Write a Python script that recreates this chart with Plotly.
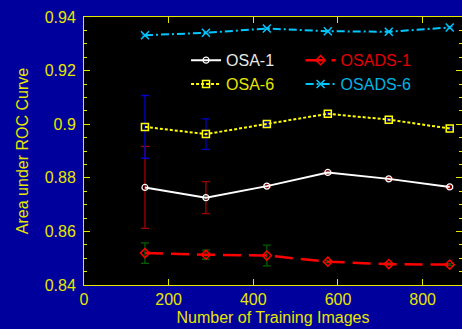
import plotly.graph_objects as go

x_images = [144, 288, 432, 576, 720, 864]

osa1 = [0.8764, 0.8726, 0.8769, 0.8820, 0.8796, 0.8766]
osa1_err = [0.0153, 0.0060, 0.0005, 0.0005, 0.0005, 0.0005]

osads1 = [0.8519, 0.8513, 0.8510, 0.8487, 0.8478, 0.8476]
osads1_err = [0.0038, 0.0017, 0.0039, 0.0004, 0.0004, 0.0004]

osa6 = [0.8990, 0.8963, 0.9001, 0.9039, 0.9017, 0.8984]
osa6_err = [0.0117, 0.0057, 0.0008, 0.0004, 0.0004, 0.0004]

osads6 = [0.9332, 0.9341, 0.9357, 0.9347, 0.9345, 0.9361]
osads6_err = [0.0003, 0.0003, 0.0003, 0.0003, 0.0003, 0.0003]

names = ["OSA-1", "OSADS-1", "OSA-6", "OSADS-6"]

BG = "#00009c"
YEL = "#e6e600"
FONT = "Liberation Sans, Arial, sans-serif"

fig = go.Figure()

fig.add_trace(go.Scatter(
    x=x_images, y=osa1, mode="lines+markers", legend="legend",
    name='<span style="color:#e8e8e8">' + names[0] + '</span>',
    line=dict(color="white", width=2),
    marker=dict(symbol="circle-open", size=6, color="white", line=dict(width=1.2)),
    error_y=dict(type="data", array=osa1_err, color="#a00000", thickness=1.3, width=4),
))
fig.add_trace(go.Scatter(
    x=x_images, y=osads1, mode="lines+markers", legend="legend2",
    name='<span style="color:#e00000">' + names[1] + '</span>',
    line=dict(color="#ff0000", width=2.5, dash="18px,8px"),
    marker=dict(symbol="diamond-open", size=7, color="#ff0000", line=dict(width=1.5)),
    error_y=dict(type="data", array=osads1_err, color="#006000", thickness=1.3, width=4),
))
fig.add_trace(go.Scatter(
    x=x_images, y=osa6, mode="lines+markers", legend="legend",
    name='<span style="color:#e6e600">' + names[2] + '</span>',
    line=dict(color="#ffff00", width=2, dash="3px,2px"),
    marker=dict(symbol="square-open", size=7, color="#ffff00", line=dict(width=1.5)),
    error_y=dict(type="data", array=osa6_err, color="#0000c8", thickness=1.3, width=4),
))
fig.add_trace(go.Scatter(
    x=x_images, y=osads6, mode="lines+markers", legend="legend2",
    name='<span style="color:#00b4e6">' + names[3] + '</span>',
    line=dict(color="#00c8ff", width=2, dash="8px,3px,2px,3px"),
    marker=dict(symbol="x-thin-open", size=8, color="#00c8ff", line=dict(width=1.5, color="#00c8ff")),
    error_y=dict(type="data", array=osads6_err, color="#0060a0", thickness=1, width=3),
))

legend_common = dict(
    orientation="v", yanchor="top", xanchor="left",
    bgcolor="rgba(0,0,0,0)", font=dict(size=16, family=FONT),
    traceorder="normal", tracegroupgap=0,
)

fig.update_layout(
    width=462, height=329,
    margin=dict(l=84, r=0, t=17, b=44),
    paper_bgcolor=BG, plot_bgcolor="black",
    font=dict(family=FONT, color=YEL, size=16),
    showlegend=True,
    legend=dict(x=0.27, y=0.902, **legend_common),
    legend2=dict(x=0.573, y=0.902, **legend_common),
    xaxis=dict(
        range=[0, 893], tickvals=[0, 200, 400, 600, 800],
        ticks="inside", ticklen=6, tickcolor=YEL, tickwidth=1,
        showline=True, linecolor=YEL, linewidth=1, mirror="ticks",
        showgrid=False, zeroline=False,
        tickfont=dict(size=16, color=YEL),
        title=dict(text="Number of Training Images", font=dict(size=16, color=YEL), standoff=4),
    ),
    yaxis=dict(
        range=[0.84, 0.94], tickvals=[0.84, 0.86, 0.88, 0.9, 0.92, 0.94],
        ticktext=["0.84", "0.86", "0.88", "0.9", "0.92", "0.94"],
        ticks="inside", ticklen=6, tickcolor=YEL, tickwidth=1,
        minor=dict(dtick=0.005, ticks="inside", ticklen=3, tickcolor=YEL, showgrid=False),
        showline=True, linecolor=YEL, linewidth=1, mirror="ticks",
        showgrid=False, zeroline=False,
        tickfont=dict(size=16, color=YEL),
        ticklabelstandoff=4,
        title=dict(text="Area under ROC Curve", font=dict(size=16, color=YEL), standoff=12),
    ),
)

fig.write_html("out.html")
